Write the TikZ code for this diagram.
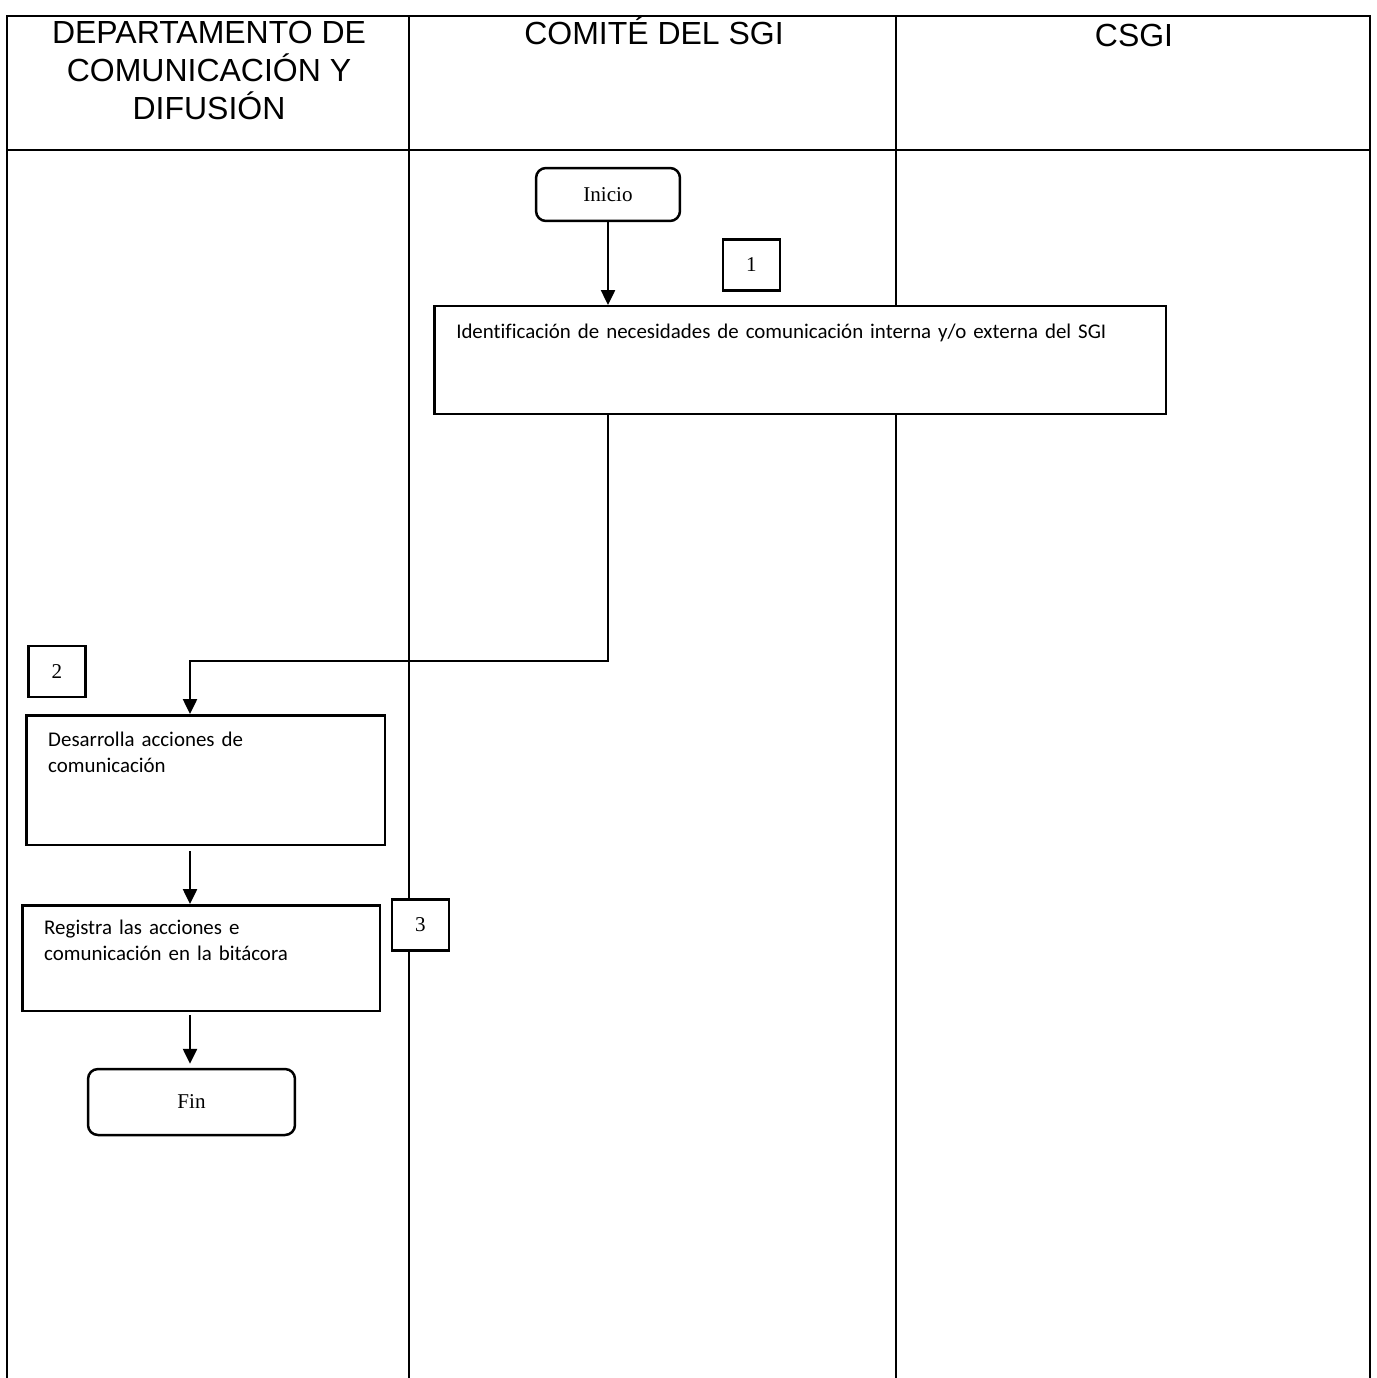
\documentclass[tikz,border=0pt]{standalone}
\usepackage{fontspec}
\setmainfont{Liberation Serif}
\newfontfamily\headfont{Liberation Sans}
\newfontfamily\boxfont[Ligatures=NoCommon]{Carlito}
\usetikzlibrary{arrows.meta}

\tikzset{
  lane/.style={line width=0.04cm},
  lanehead/.style={anchor=base, align=center, font=\headfont\fontsize{18.2}{21.7}\selectfont},
  terminal/.style 2 args={draw, fill=white, line width=0.05cm, rounded corners=0.2cm,
    minimum width=#1, minimum height=#2, inner sep=0pt, font=\fontsize{12}{14}\selectfont},
  stepbox/.style n args={3}{draw, fill=white, line width=0.05cm, anchor=north west,
    align=left, inner xsep=0.44cm, inner ysep=0pt, text width=#1, text height=#2, text depth=#3,
    font=\boxfont\fontsize{11.9}{14.9}\selectfont},
  numbox/.style={draw, fill=white, line width=0.045cm, minimum width=1.14cm, minimum height=1.02cm,
    inner sep=0pt, font=\fontsize{12}{14}\selectfont},
  flow/.style={-{Triangle[width=0.28cm,length=0.3cm]}, line width=0.05cm}
}

\begin{document}
\begin{tikzpicture}[x=0.02cm, y=-0.02cm]
  \useasboundingbox (0,0) rectangle (1376,1378);

  % lanes
  \draw[lane] (7,1378) -- (7,16) -- (1370,16) -- (1370,1378);
  \draw[lane] (7,150) -- (1370,150);
  \draw[lane] (409,16) -- (409,1378);
  \draw[lane] (896,16) -- (896,1378);

  % multi-line node: base is the last line
  \node[lanehead] (dcd)  at (209,120)  {DEPARTAMENTO DE\\COMUNICACIÓN Y\\DIFUSIÓN};
  \node[lanehead] (comite) at (654,45) {COMITÉ DEL SGI};
  \node[lanehead] (csgi) at (1134,47) {CSGI};

  \path
    coordinate (turn) at (190,661)
  ;

  \node[terminal={2.88cm}{1.06cm}] (inicio) at (608,194.5) {Inicio};
  \node[numbox] (n1) at (751.5,265) {1};
  \node[stepbox={13.76cm}{0.64cm}{1.52cm}] (ident) at (433,305)
    {Identificación de necesidades de comunicación interna y/o externa del SGI};

  \node[numbox] (n2) at (57,671.5) {2};
  \node[stepbox={6.3cm}{0.62cm}{1.98cm}] (desc) at (25,714)
    {Desarrolla acciones de\\comunicación};

  \node[numbox] (n3) at (420.5,925) {3};
  \node[stepbox={6.28cm}{0.58cm}{1.54cm}] (reg) at (21,904)
    {Registra las acciones e\\comunicación en la bitácora};

  \node[terminal={4.14cm}{1.32cm}] (fin) at (191.5,1102) {Fin};

  \draw[flow] (inicio) -- (ident.north -| inicio);
  \draw[flow] (ident.south -| inicio) |- (turn) -- (desc.north -| turn);
  \draw[flow, shorten <=0.1cm] (desc.south -| turn) -- (reg.north -| turn);
  \draw[flow, shorten <=0.05cm, shorten >=0.08cm] (reg.south -| turn) -- (fin.north -| turn);

\end{tikzpicture}
\end{document}
